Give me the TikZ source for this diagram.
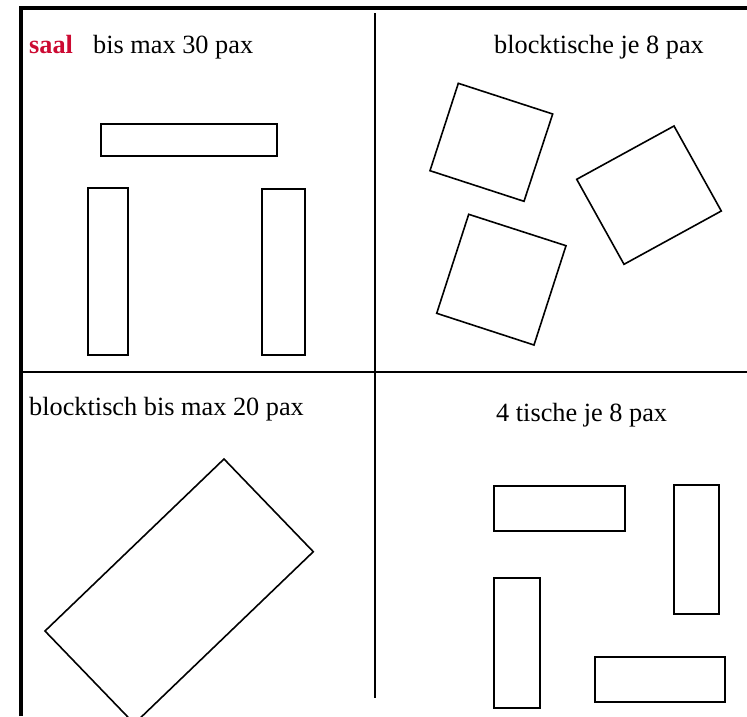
\documentclass[tikz,border=0pt]{standalone}
\usepackage{fontspec}
\setmainfont{Liberation Serif}
\usepackage{xcolor}
\usepackage{tikz}
\usetikzlibrary{positioning}
\definecolor{saalred}{RGB}{204, 10, 50}

\tikzset{
    lbl/.style={inner sep=0pt, anchor=base west, font=\fontsize{26.3}{30}\selectfont},
    tisch/.style={draw, line width=2pt},
    block/.style={draw, line width=1.6pt}
}

\begin{document}
\begin{tikzpicture}[x=1pt, y=-1pt]
\useasboundingbox (0,0) rectangle (747,716);
\clip (0,0) rectangle (747,716);

% Frame and dividers
\draw[line width=4pt] (20.5,716) -- (20.5,7.5) -- (747,7.5);
\draw[line width=2.5pt] (375,13) -- (375,698);
\draw[line width=2pt] (22,372) -- (747,372);

% Headings
\node[lbl, text=saalred, font=\fontsize{26.3}{30}\selectfont\bfseries] (saal) at (29,53) {saal};
\node[lbl] (saalmax) at (93,53) {bis max 30 pax};
\node[lbl] (blockacht) at (494,53) {blocktische je 8 pax};
\node[lbl] (blockzwanzig) at (29,415) {blocktisch bis max 20 pax};
\node[lbl] (viertische) at (496,421.7) {4 tische je 8 pax};

% Saal: U-shape
\draw[tisch] (101,124) rectangle (277,156);
\draw[tisch] (88,187.5) rectangle (128,355);
\draw[tisch] (262,189) rectangle (304.5,355);

% Blocktische je 8 pax
\draw[block] (458.3,83.3) -- (552.7,114) -- (524,201.3) -- (430,170.7) -- cycle;
\draw[block] (468.7,214.3) -- (566,245.7) -- (534,345) -- (436.7,313.3) -- cycle;
\draw[block] (674,126) -- (721.3,211) -- (624,264.3) -- (576.7,179.3) -- cycle;

% Blocktisch bis max 20 pax
\draw[block] (224,459) -- (313.3,551.7) -- (134.3,723.7) -- (45,631) -- cycle;

% 4 tische je 8 pax
\draw[tisch] (494,485.5) rectangle (624.5,530.5);
\draw[tisch] (673.5,484.5) rectangle (718.5,613.5);
\draw[tisch] (494,577.5) rectangle (540,707.5);
\draw[tisch] (595,656.5) rectangle (725,701.5);
\end{tikzpicture}
\end{document}
